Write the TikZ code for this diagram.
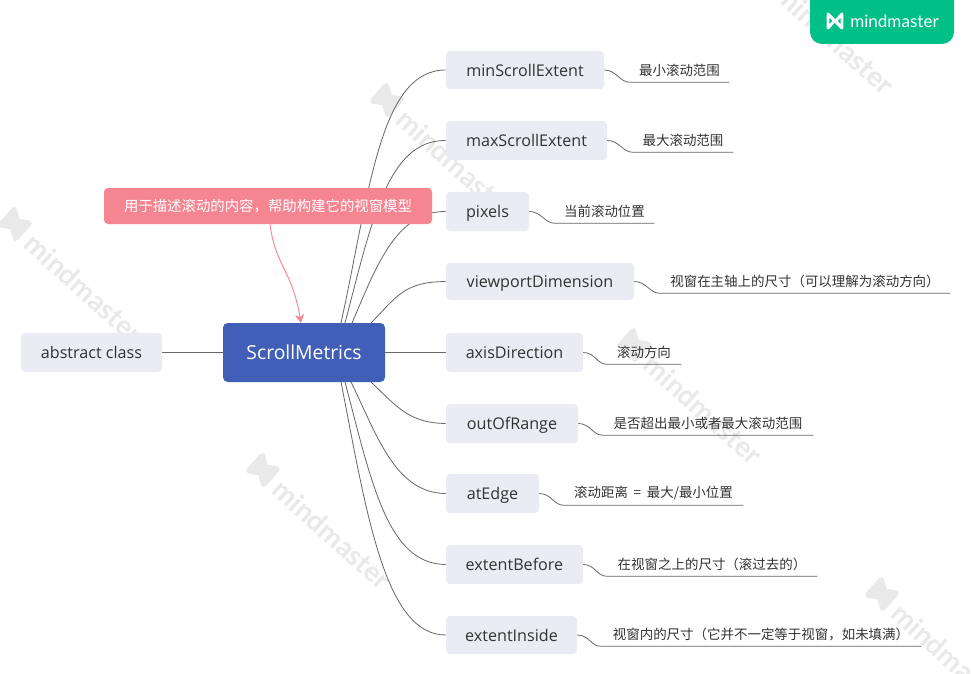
\documentclass[tikz,border=0pt]{standalone}
\usepackage{fontspec}
\setmainfont{Open Sans}
\newfontfamily\cjk{Noto Sans CJK SC}
\newfontfamily\wmfont{Lato}[BoldFont={Lato Bold}]
\usetikzlibrary{arrows.meta}
\definecolor{childfill}{HTML}{EAEBF3}
\definecolor{rootfill}{HTML}{425FB8}
\definecolor{pinkfill}{HTML}{F58591}
\definecolor{linecol}{HTML}{666666}
\definecolor{badge}{HTML}{00BF87}
\definecolor{wmcol}{HTML}{E9E9E9}
\definecolor{txtcol}{HTML}{333333}
\tikzset{
  childbox/.style={fill=childfill,rounded corners=3pt,inner sep=0pt,text=txtcol,text height=11.6pt,text depth=2.5pt,font=\fontsize{12.1}{14}\selectfont},
  rootbox/.style={fill=rootfill,rounded corners=3.5pt,inner sep=0pt,text=white,text height=12pt,text depth=2.2pt,font=\fontsize{14.5}{17}\selectfont},
  notebox/.style={fill=pinkfill,rounded corners=3pt,inner sep=0pt,text=white,font=\cjk\fontsize{10.8}{13}\selectfont},
  leafbox/.style={inner sep=0pt,text=txtcol,font=\cjk\fontsize{10.1}{12}\selectfont,minimum height=18pt},
  conn/.style={draw=linecol,line width=0.6pt},
  wmtext/.style={text=wmcol,font=\wmfont\bfseries\fontsize{21}{25}\selectfont,inner sep=0pt,anchor=west,rotate=-42},
}
\newcommand{\pxbox}[7]{%
  \pgfmathsetmacro{\bw}{(#5-#3)*0.75}\pgfmathsetmacro{\bh}{(#6-#4)*0.75}%
  \node[#1,minimum width=\bw pt,minimum height=\bh pt] (#2) at ({(#3+#5)/2},{(#4+#6)/2}) {#7};}
\newcommand{\pxleaf}[6]{%
  \pgfmathsetmacro{\bw}{(#4-#3)*0.75}%
  \node[leafbox,minimum width=\bw pt] (#1) at ({(#3+#4)/2},{#5-12}) {#6};
  \draw[conn] (#2.east) .. controls +(12,0) and +(-10,0) .. (#1.south west) -- (#1.south east);}
\newcommand{\mmlogo}[4]{% x, y, size, colour
  \begin{scope}[shift={(#1,#2)},scale=#3,rotate=-42]
    \draw[#4,fill=#4,line width=4.2pt,line join=round,line cap=round]
      (-0.5,0.5) -- (-0.5,-0.5) -- (0,-0.18) -- (0.5,-0.5) -- (0.5,0.5) -- (0,0.18) -- cycle;
  \end{scope}}
\newcommand{\wmark}[2]{%
  \mmlogo{#1}{#2}{20}{wmcol}
  \node[wmtext] at ({#1+14},{#2+15}) {mindmaster};}
\begin{document}
\begin{tikzpicture}[x=0.75pt,y=-0.75pt]
\useasboundingbox (0,0) rectangle (971,674);
\clip (0,0) rectangle (971,674);
\fill[white] (0,0) rectangle (971,674);
% watermarks
\wmark{387}{100}
\wmark{15}{224}
\wmark{634}{345}
\wmark{263}{470}
\wmark{882}{594}
\wmark{766}{-25}
% badge
\fill[badge,rounded corners=9pt] (810,-20) rectangle (954,44);
\begin{scope}[shift={(835,21)},scale=14]
  \draw[white,line width=2.2pt,line join=round,line cap=round]
    (-0.5,0.5) -- (-0.5,-0.5) -- (0.5,0.5) -- (0.5,-0.5) -- (0.05,0.0) -- (0.5,0.5)
    (-0.5,0.5) -- (-0.05,0);
\end{scope}
\node[text=white,inner sep=0pt,anchor=west,font=\wmfont\fontsize{12.8}{14}\selectfont] (brand) at (850,21) {mindmaster};
% nodes
\pxbox{rootbox}{root}{223}{323}{385}{382}{ScrollMetrics}
\pxbox{childbox}{abs}{21}{333}{162}{372}{abstract class}
\pxbox{childbox}{a}{446}{51}{604}{89}{minScrollExtent}
\pxbox{childbox}{b}{446}{121}{607}{160}{maxScrollExtent}
\pxbox{childbox}{c}{446}{192}{529}{231}{pixels}
\pxbox{childbox}{d}{446}{263}{634}{300}{viewportDimension}
\pxbox{childbox}{e}{446}{333}{583}{372}{axisDirection}
\pxbox{childbox}{f}{446}{404}{578}{443}{outOfRange}
\pxbox{childbox}{g}{446}{474}{539}{513}{atEdge}
\pxbox{childbox}{h}{446}{545}{583}{584}{extentBefore}
\pxbox{childbox}{i}{446}{616}{577}{654}{extentInside}
% root connector start points
\coordinate (ta) at (341,323);
\coordinate (tb) at (345,323);
\coordinate (tc) at (352,323);
\coordinate (td) at (371,323);
\coordinate (bf) at (371,382);
\coordinate (bg) at (351,382);
\coordinate (bh) at (345,382);
\coordinate (bi) at (341,382);
\draw[conn] (abs.east) -- (root.west);
\draw[conn] (root.east) -- (e.west);
\draw[conn] (ta) .. controls (370,190) and (380,70) .. (a.west);
\draw[conn] (tb) .. controls (372,220) and (388,140) .. (b.west);
\draw[conn] (tc) .. controls (375,270) and (395,211) .. (c.west);
\draw[conn] (td) .. controls (398,295) and (405,282) .. (d.west);
\draw[conn] (bf) .. controls (398,408) and (410,423) .. (f.west);
\draw[conn] (bg) .. controls (377,435) and (395,493) .. (g.west);
\draw[conn] (bh) .. controls (372,485) and (388,564) .. (h.west);
\draw[conn] (bi) .. controls (367,515) and (385,635) .. (i.west);
% note box lies over the connectors
\pxbox{notebox}{note}{104}{188}{432}{224}{用于描述滚动的内容，帮助构建它的视窗模型}
% leaves
\pxleaf{la}{a}{630}{729}{82}{最小滚动范围}
\pxleaf{lb}{b}{633}{733}{152}{最大滚动范围}
\pxleaf{lc}{c}{555}{654}{223}{当前滚动位置}
\pxleaf{ld}{d}{660}{950}{293}{视窗在主轴上的尺寸（可以理解为滚动方向）}
\pxleaf{le}{e}{607}{681}{364}{滚动方向}
\pxleaf{lf}{f}{603}{813}{435}{是否超出最小或者最大滚动范围}
\pxleaf{lg}{g}{564}{743}{505}{滚动距离\hspace{2pt} = \hspace{2pt}最大/最小位置}
\pxleaf{lh}{h}{607}{817}{576}{在视窗之上的尺寸（滚过去的）}
\pxleaf{li}{i}{601}{921}{646}{视窗内的尺寸（它并不一定等于视窗，如未填满）}
% note arrow
\coordinate (ns) at (270,224);
\coordinate (rn) at (301,323);
\draw[draw=pinkfill,line width=0.7pt,-{Stealth[length=6.5pt,width=7pt]}] (ns) .. controls (275,265) and (292,270) .. (rn);
\end{tikzpicture}
\end{document}
